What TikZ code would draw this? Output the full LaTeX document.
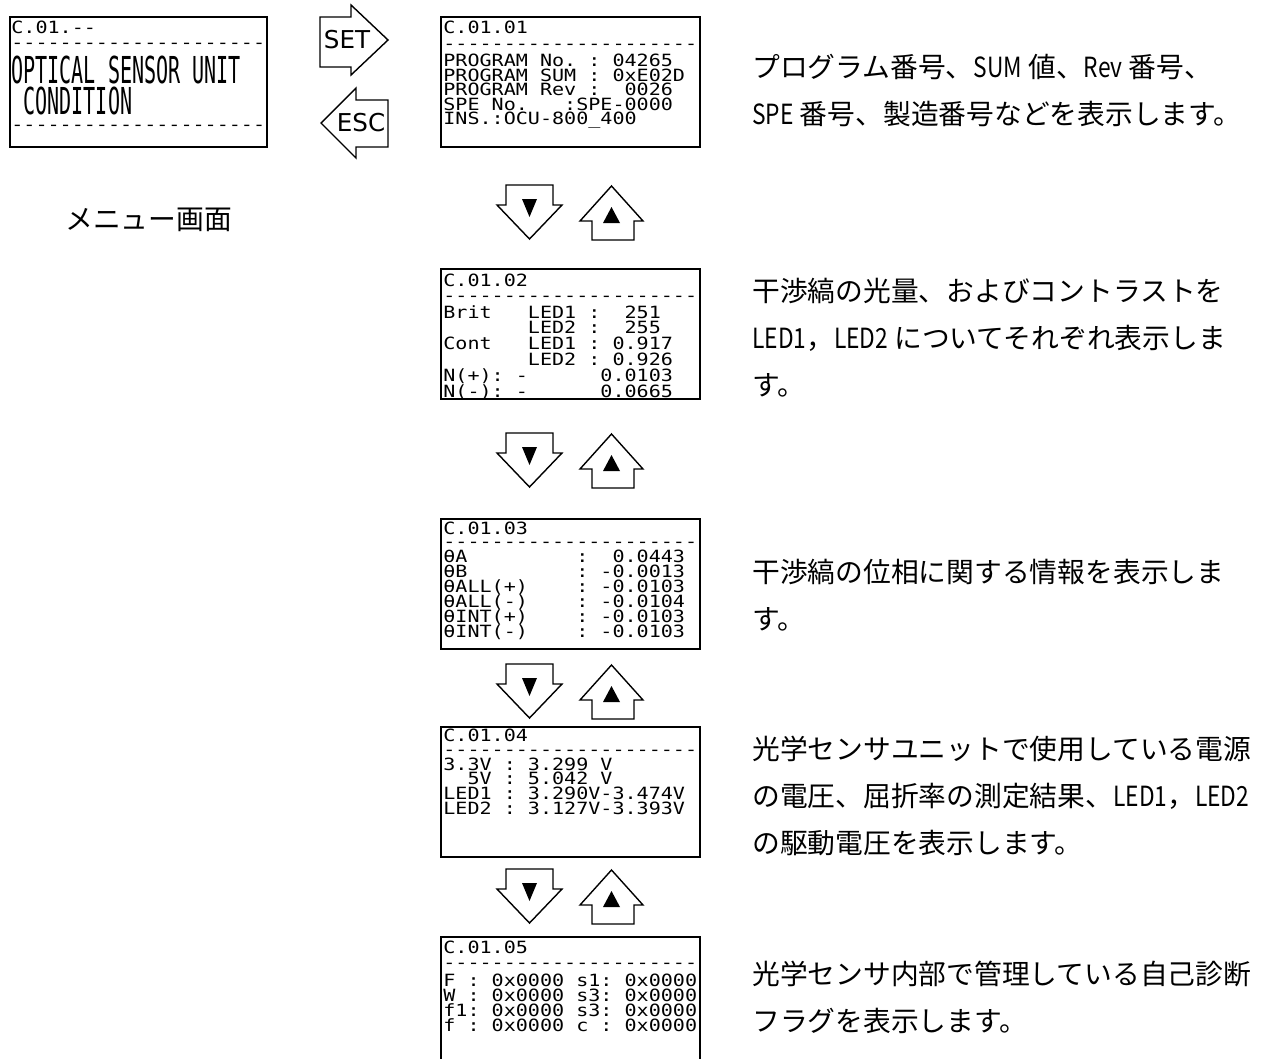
\documentclass[tikz,border=0pt]{standalone}
\usepackage{graphicx}
\usepackage{fontspec}
\newfontfamily\jpfont{Noto Sans CJK JP}
\newfontfamily\jplatin[FakeStretch=0.82]{Noto Sans CJK JP}
\newfontfamily\lcdfont[FakeStretch=1.19,Ligatures=TeXOff]{DejaVu Sans Mono}
\newfontfamily\keyfont{DejaVu Sans}
\newcommand\hw[1]{{\jplatin #1}}
\begin{document}
\begin{tikzpicture}[
    x=0.02cm, y=-0.02cm,
    every node/.style={inner sep=0pt},
    screen/.style={draw, line width=0.8pt},
    lcd/.style={font=\lcdfont\fontsize{9.6}{11}\selectfont, anchor=base west, yshift=-3.5pt},
    lcdbig/.style={lcd, yshift=-4.2pt},
    keyarrow/.style={draw, line width=0.8pt, fill=white, line join=miter},
    keylabel/.style={font=\keyfont\fontsize{14}{14}\selectfont},
    infotext/.style={font=\jpfont\fontsize{15.8}{26.8}\selectfont, align=left, anchor=north west}
]
\useasboundingbox (0,0) rectangle (1273,1058);
\def\dashrow{---------------------}

% menu screen
\begin{scope}[shift={(10,17)}]
  \draw[screen] (0,0) rectangle (257,130);
  \node[lcd] (menutitle) at (1,10) {C.01.--};
  \node[lcd] (menudash1) at (1,25) {\dashrow};
  \node[lcdbig] (menuline1) at (1,53) {\scalebox{1}[2.2]{OPTICAL~SENSOR~UNIT}};
  \node[lcdbig] (menuline2) at (1,84) {\scalebox{1}[2.2]{~CONDITION}};
  \node[lcd] (menudash2) at (1,107) {\dashrow};
\end{scope}
\node[infotext] (menulabel) at (65,208) {メニュー画面};

% SET / ESC keys
\draw[keyarrow] (320,17) -- (351,17) -- (351,5) -- (388,40) -- (351,75) -- (351,67) -- (320,67) -- cycle;
\node[keylabel] (setkey) at (347,40) {SET};
\draw[keyarrow] (388,100) -- (356,100) -- (356,88) -- (321,123) -- (356,158) -- (356,147) -- (388,147) -- cycle;
\node[keylabel] (esckey) at (361,123) {ESC};

% C.01.01
\begin{scope}[shift={(441,17)}]
  \draw[screen] (0,0) rectangle (259,130);
  \node[lcd] (infotitle) at (2,10) {C.01.01};
  \node[lcd] (infodash) at (2,26) {\dashrow};
  \foreach \dy/\row [count=\i] in {43/{PROGRAM~No.~:~04265},
      58/{PROGRAM~SUM~:~0xE02D}, 72/{PROGRAM~Rev~:~~0026},
      87/{SPE~No.~~~:SPE-0000}, 101/{INS.:OCU-800\_400}}
    \node[lcd] (info-r\i) at (2,\dy) {\row};
\end{scope}
\node[infotext] (infotext1) at (752,54)
  {プログラム番号、\hw{SUM} 値、\hw{Rev} 番号、\\\hw{SPE} 番号、製造番号などを表示します。};

% C.01.02
\begin{scope}[shift={(441,269)}]
  \draw[screen] (0,0) rectangle (259,130);
  \node[lcd] (senstitle) at (2,11) {C.01.02};
  \node[lcd] (sensdash) at (2,26) {\dashrow};
  \foreach \dy/\row [count=\i] in {43/{Brit~~~LED1~:~~251},
      58/{~~~~~~~LED2~:~~255}, 74/{Cont~~~LED1~:~0.917},
      90/{~~~~~~~LED2~:~0.926}, 106/{N(+):~-~~~~~~0.0103},
      122/{N(-):~-~~~~~~0.0665}}
    \node[lcd] (sens-r\i) at (2,\dy) {\row};
\end{scope}
\node[infotext] (infotext2) at (752,278)
  {干渉縞の光量、およびコントラストを\\\hw{LED1}，\hw{LED2} についてそれぞれ表示しま\\す。};

% C.01.03
\begin{scope}[shift={(441,519)}]
  \draw[screen] (0,0) rectangle (259,130);
  \node[lcd] (phasetitle) at (2,9) {C.01.03};
  \node[lcd] (phasedash) at (2,22) {\dashrow};
  \foreach \dy/\row [count=\i] in {37/{θA~~~~~~~~~:~~0.0443},
      52/{θB~~~~~~~~~:~-0.0013}, 67/{θALL(+)~~~~:~-0.0103},
      82/{θALL(-)~~~~:~-0.0104}, 97/{θINT(+)~~~~:~-0.0103},
      112/{θINT(-)~~~~:~-0.0103}}
    \node[lcd] (phase-r\i) at (2,\dy) {\row};
\end{scope}
\node[infotext] (infotext3) at (752,559)
  {干渉縞の位相に関する情報を表示しま\\す。};

% C.01.04
\begin{scope}[shift={(441,727)}]
  \draw[screen] (0,0) rectangle (259,130);
  \node[lcd] (volttitle) at (2,8) {C.01.04};
  \node[lcd] (voltdash) at (2,22) {\dashrow};
  \foreach \dy/\row [count=\i] in {37/{3.3V~:~3.299~V},
      51/{~~5V~:~5.042~V}, 66/{LED1~:~3.290V-3.474V},
      81/{LED2~:~3.127V-3.393V}}
    \node[lcd] (volt-r\i) at (2,\dy) {\row};
\end{scope}
\node[infotext] (infotext4) at (752,736)
  {光学センサユニットで使用している電源\\の電圧、屈折率の測定結果、\hw{LED1}，\hw{LED2}\\の駆動電圧を表示します。};

% C.01.05
\begin{scope}[shift={(441,937)}]
  \draw[screen] (0,122) |- (259,0) -- (259,122);
  \node[lcd] (flagtitle) at (2,10) {C.01.05};
  \node[lcd] (flagdash) at (2,25) {\dashrow};
  \foreach \dy/\row [count=\i] in {43/{F~:~0x0000~s1:~0x0000},
      58/{W~:~0x0000~s3:~0x0000}, 73/{f1:~0x0000~s3:~0x0000},
      88/{f~:~0x0000~c~:~0x0000}}
    \node[lcd] (flag-r\i) at (2,\dy) {\row};
\end{scope}
\node[infotext] (infotext5) at (752,961)
  {光学センサ内部で管理している自己診断\\フラグを表示します。};

% down / up keys between the screens
\foreach \y in {185,433,664,869}{
  \draw[keyarrow] (506,\y) -- ++(47,0) -- ++(0,20) -- ++(9,0) -- (529.5,\y+54) -- (497,\y+20) -- ++(9,0) -- cycle;
  \fill (522,\y+14) -- (537,\y+14) -- (529.5,\y+32) -- cycle;
  \draw[keyarrow] (592,\y+55) -- ++(0,-19) -- ++(-12,0) -- (611.5,\y+1) -- (643,\y+36) -- ++(-9,0) -- ++(0,19) -- cycle;
  \fill (603,\y+38) -- (620,\y+38) -- (611.5,\y+22) -- cycle;
}
\end{tikzpicture}
\end{document}
